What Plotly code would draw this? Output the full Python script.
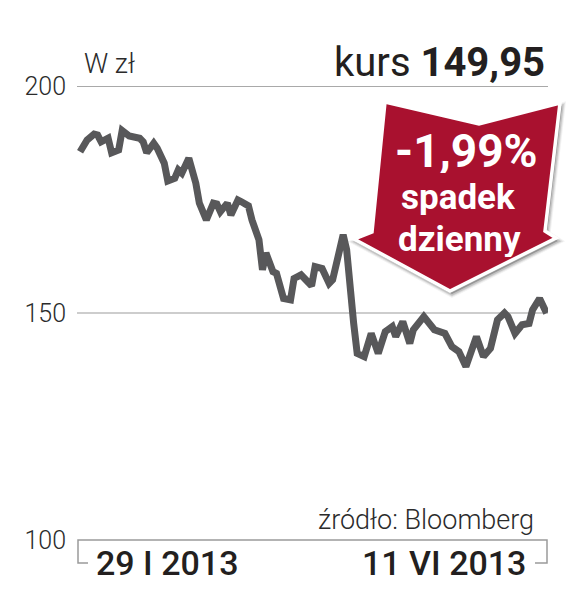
import pandas as pd
import plotly.graph_objects as go

# ---- data ----
start_date = "2013-01-29"
day_offsets = [0, 2, 4, 5, 6, 8, 9, 11, 12, 14,
               17, 18, 19, 21, 22, 24, 25, 27, 28, 29,
               31, 32, 33, 34, 36, 38, 39, 40, 42, 43,
               45, 46, 48, 49, 51, 52, 53, 55, 56, 58,
               60, 61, 63, 64, 66, 67, 69, 71, 72, 75,
               76, 78, 79, 81, 83, 85, 87, 89, 90, 92,
               94, 95, 98, 101, 103, 104, 106, 108, 110, 112,
               113, 115, 117, 119, 121, 122, 124, 126, 128, 129,
               131, 133]
prices = [185.5, 188.1, 189.4, 189.2, 187.7, 188.5, 185.3, 185.9, 190.2, 189.0,
          188.5, 187.7, 185.3, 187.4, 186.3, 183.0, 179.1, 179.7, 181.5, 180.8,
          184.1, 181.5, 178.6, 174.2, 170.5, 174.2, 174.0, 172.3, 174.2, 171.6,
          174.9, 174.5, 173.6, 170.5, 166.1, 159.5, 163.2, 159.1, 158.7, 153.2,
          152.9, 157.6, 158.4, 157.6, 156.0, 160.2, 159.8, 156.5, 157.3, 167.2,
          163.9, 147.7, 141.1, 140.4, 145.5, 141.1, 145.9, 147.0, 144.8, 148.1,
          143.3, 146.3, 149.2, 146.3, 145.9, 145.5, 142.6, 141.5, 138.2, 143.3,
          144.8, 140.4, 142.2, 148.5, 150.0, 149.2, 145.5, 147.4, 147.7, 150.7,
          153.2, 149.95]
y_ticks = [100, 150, 200]
y_tick_labels = ["100", "150", "200"]
date_labels = ["29 I 2013", "11 VI 2013"]
unit_label = "W zł"
last_price_label = "149,95"
change_label = "-1,99%"
change_words = ["spadek", "dzienny"]
source_label = "źródło: Bloomberg"

dates = pd.Timestamp(start_date) + pd.to_timedelta(day_offsets, unit="D")
x_start = pd.Timestamp(start_date) - pd.Timedelta(hours=21)
x_end = pd.Timestamp(start_date) + pd.Timedelta(days=133.4)

# ---- geometry helpers (window pixel -> paper) ----
OFF = 8                      # page body margin
W, H = 584 - OFF, 601 - OFF  # figure size
L, R, T, B = 77 - OFF, 36, 86 - OFF, 61
PW, PH = W - L - R, H - T - B


def px(x):
    return (x - OFF - L) / PW


def py(y):
    return (H - B - (y - OFF)) / PH


fig = go.Figure()
fig.add_trace(go.Scatter(
    x=dates, y=prices, mode="lines",
    line=dict(color="#58585a", width=7),
    hoverinfo="skip", showlegend=False,
))

shapes = []
# reference lines
shapes.append(dict(type="line", xref="paper", yref="y", x0=0, x1=1,
                   y0=200, y1=200, line=dict(color="#8c8c8c", width=1.5), layer="below"))
shapes.append(dict(type="line", xref="paper", yref="y", x0=0, x1=1,
                   y0=150, y1=150, line=dict(color="#bdbdbd", width=1.5), layer="below"))
# bottom bracket
bracket = (f"M {px(88)} {py(563)} L {px(78)} {py(563)} L {px(78)} {py(540)} "
           f"L {px(547)} {py(540)} L {px(547)} {py(563)} L {px(535)} {py(563)}")
shapes.append(dict(type="path", xref="paper", yref="paper", path=bracket,
                   line=dict(color="#9a9a9a", width=1.5)))

# arrow
arrow_pts = [(385, 102), (479, 124), (560, 103), (545, 231), (556, 238),
             (450, 291), (354, 239), (372, 232)]


def poly(pts, dx=0, dy=0):
    return "M " + " L ".join(f"{px(x + dx)} {py(y + dy)}" for x, y in pts) + " Z"


for d, a in [(7, 0.05), (5, 0.08), (3, 0.12)]:
    shapes.append(dict(type="path", xref="paper", yref="paper",
                       path=poly(arrow_pts, 2, 3),
                       fillcolor=f"rgba(0,0,0,{a})",
                       line=dict(color=f"rgba(0,0,0,{a})", width=d)))
shapes.append(dict(type="path", xref="paper", yref="paper", path=poly(arrow_pts),
                   fillcolor="#a9112f", line=dict(color="white", width=3.5)))

annotations = []
dark = "#231f20"


def note(x, y, text, size, anchor="center", color=dark, weight=None, height=None):
    f = dict(family="Roboto", size=size, color=color)
    if weight is not None:
        f["weight"] = weight
    a = dict(xref="paper", yref="paper", x=px(x), y=py(y), xanchor=anchor,
             yanchor="middle", showarrow=False, text=text, font=f)
    if height is not None:
        a["height"] = height
    annotations.append(a)


note(82, 64, unit_label, 27, "left", "#2b2b2b", 300)
note(547, 62, f"kurs <b>{last_price_label}</b>", 40, "right")
note(466, 151, f"<b>{change_label}</b>", 46, color="white", height=44)
note(458, 197, f"<b>{change_words[0]}</b>", 35, color="white", height=36)
note(459, 239, f"<b>{change_words[1]}</b>", 35, color="white", height=36)
note(536, 520, source_label, 27, "right", "#2b2b2b", 300)
note(94, 563, date_labels[0], 34, "left", dark, 500)
note(528, 563, date_labels[1], 34, "right", dark, 500)

fig.update_layout(
    width=W, height=H,
    margin=dict(l=L, r=R, t=T, b=B, pad=0),
    paper_bgcolor="white", plot_bgcolor="white",
    shapes=shapes, annotations=annotations,
    xaxis=dict(type="date", range=[x_start, x_end], showgrid=False,
               zeroline=False, showticklabels=False, ticks="", showline=False),
    yaxis=dict(range=[100, 200], tickvals=y_ticks, ticktext=y_tick_labels,
               showgrid=False, zeroline=False, showline=False, ticks="",
               ticklabelstandoff=10,
               tickfont=dict(family="Roboto", size=25, color="#2b2b2b", weight=300)),
)

fig.write_html("out.html")
